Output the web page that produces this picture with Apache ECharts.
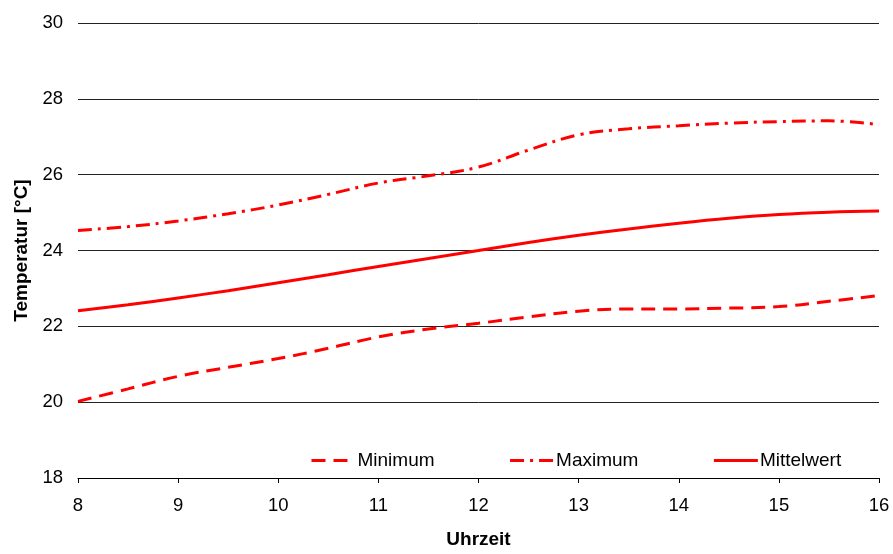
<!DOCTYPE html>
<html>
<head>
<meta charset="utf-8">
<script src="https://cdn.jsdelivr.net/npm/echarts@6/dist/echarts.min.js"></script>
<style>html,body{margin:0;padding:0;background:#fff}#c{width:893px;height:554px}</style>
</head>
<body>
<div id="c"></div>
<script>
var hours = [8, 8.5, 9, 9.5, 10, 10.5, 11, 11.5, 12, 12.5, 13, 13.5, 14, 14.5, 15, 15.5, 16];
var minimum = [20.02, 20.35, 20.68, 20.92, 21.15, 21.42, 21.72, 21.93, 22.08, 22.25, 22.40, 22.46, 22.46, 22.48, 22.52, 22.66, 22.81];
var maximum = [24.53, 24.63, 24.78, 24.97, 25.20, 25.48, 25.78, 25.97, 26.20, 26.65, 27.05, 27.21, 27.29, 27.36, 27.40, 27.42, 27.32];
var mittelwert = [22.41, 22.57, 22.75, 22.94, 23.15, 23.36, 23.58, 23.79, 24.00, 24.21, 24.40, 24.57, 24.72, 24.85, 24.95, 25.01, 25.04];
var seriesNames = ['Minimum', 'Maximum', 'Mittelwert'];
var xTicks = [8, 9, 10, 11, 12, 13, 14, 15, 16];
var yTicks = [18, 20, 22, 24, 26, 28, 30];

function pairs(vals) { return hours.map(function (h, i) { return [h, vals[i]]; }); }
var font = 'Liberation Sans, Arial, sans-serif';
var chart = echarts.init(document.getElementById('c'), null, { renderer: 'canvas' });
var red = '#ff0000';
function mk(name, vals, type) {
  return {
    name: name, type: 'line', data: pairs(vals), smooth: 0.4, showSymbol: false, symbol: 'none',
    lineStyle: { color: red, width: 3, type: type },
    itemStyle: { color: red }
  };
}
chart.setOption({
  animation: false,
  backgroundColor: '#fff',
  grid: { left: 78, right: 14, top: 23, bottom: 72 },
  legend: {
    data: seriesNames,
    left: 305, top: 446,
    itemWidth: 44, itemHeight: 14, itemGap: 74,
    lineStyle: { width: 3 },
    itemStyle: { opacity: 0 },
    textStyle: { fontFamily: font, fontSize: 19, color: '#000', padding: [0, 0, 0, -3] }
  },
  xAxis: {
    type: 'value', min: 8, max: 16, interval: 1,
    name: 'Uhrzeit', nameLocation: 'middle', nameGap: 52,
    nameTextStyle: { fontFamily: font, fontSize: 19, fontWeight: 'bold', color: '#000' },
    axisLine: { show: true, lineStyle: { color: '#000', width: 1 } },
    axisTick: { show: true, length: 5, lineStyle: { color: '#000' } },
    axisLabel: { fontFamily: font, fontSize: 18.5, color: '#000', margin: 18 },
    splitLine: { show: false }
  },
  yAxis: {
    type: 'value', min: 18, max: 30, interval: 2,
    name: 'Temperatur [°C]', nameLocation: 'middle', nameGap: 46, nameRotate: 90,
    nameTextStyle: { fontFamily: font, fontSize: 19, fontWeight: 'bold', color: '#000' },
    axisLine: { show: false },
    axisTick: { show: false },
    axisLabel: { fontFamily: font, fontSize: 18.5, color: '#000', margin: 15 },
    splitLine: { show: true, lineStyle: { color: '#222', width: 1 } }
  },
  series: [
    mk(seriesNames[0], minimum, [14, 8]),
    mk(seriesNames[1], maximum, [14, 6, 3, 6]),
    mk(seriesNames[2], mittelwert, 'solid')
  ]
});
</script>
</body>
</html>
